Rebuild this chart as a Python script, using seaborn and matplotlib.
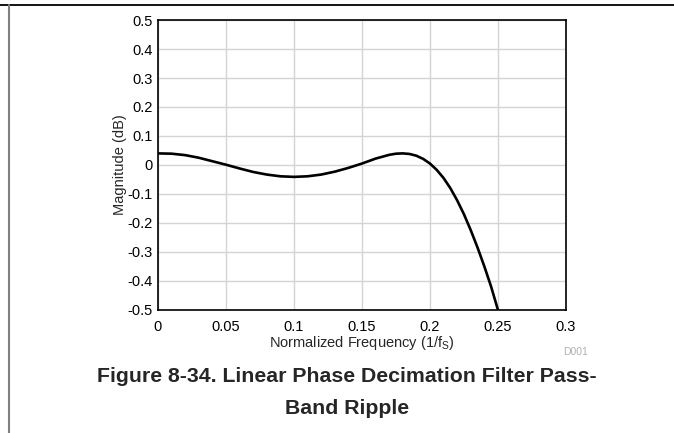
import matplotlib
matplotlib.use("Agg")
import matplotlib.pyplot as plt
import seaborn as sns
import pandas as pd
from matplotlib.lines import Line2D

freq = [0.000, 0.010, 0.020, 0.030, 0.040, 0.050, 0.060, 0.070, 0.080, 0.090,
        0.100, 0.110, 0.120, 0.130, 0.140, 0.150, 0.160, 0.170, 0.175, 0.180,
        0.185, 0.190, 0.195, 0.200, 0.205, 0.210, 0.215, 0.220, 0.225, 0.230,
        0.235, 0.240, 0.245, 0.250]
magnitude = [0.040, 0.039, 0.034, 0.025, 0.013, 0.001, -0.012, -0.024, -0.033, -0.039,
             -0.041, -0.039, -0.033, -0.023, -0.010, 0.005, 0.022, 0.035, 0.039, 0.040,
             0.038, 0.032, 0.021, 0.005, -0.017, -0.045, -0.080, -0.122, -0.170, -0.225,
             -0.285, -0.350, -0.420, -0.500]
x_ticks = [0, 0.05, 0.1, 0.15, 0.2, 0.25, 0.3]
x_tick_labels = ["0", "0.05", "0.1", "0.15", "0.2", "0.25", "0.3"]
y_ticks = [0.5, 0.4, 0.3, 0.2, 0.1, 0, -0.1, -0.2, -0.3, -0.4, -0.5]
y_tick_labels = ["0.5", "0.4", "0.3", "0.2", "0.1", "0", "-0.1", "-0.2", "-0.3", "-0.4", "-0.5"]

sns.set_style("whitegrid")
plt.rcParams["font.family"] = ["Liberation Sans", "DejaVu Sans"]

df = pd.DataFrame({"freq": freq, "mag": magnitude})

fig = plt.figure(figsize=(6.74, 4.33), dpi=100)
ax = fig.add_axes([0.2344, 0.2841, 0.6053, 0.6697])
sns.lineplot(data=df, x="freq", y="mag", ax=ax, color="black", linewidth=1.9, sort=False)

ax.set_xlim(0, 0.3)
ax.set_ylim(-0.5, 0.5)
ax.set_xticks(x_ticks)
ax.set_xticklabels(x_tick_labels)
ax.set_yticks(y_ticks)
ax.set_yticklabels(y_tick_labels)
ax.tick_params(axis="both", labelsize=10.5, colors="black", length=0)
ax.tick_params(axis="x", pad=7)
ax.tick_params(axis="y", pad=4)
ax.grid(True, color="#d4d4d4", linewidth=1.0)
for s in ax.spines.values():
    s.set_color("black")
    s.set_linewidth(1.2)
ax.set_xlabel("Normalized Frequency (1/f$_\\mathregular{S}$)", fontsize=10.5)
ax.set_ylabel("Magnitude (dB)", fontsize=10.5)
ax.xaxis.set_label_coords(0.5, -0.114)
ax.yaxis.set_label_coords(-0.093, 0.5)
ax.xaxis.label.set_va("center")
ax.yaxis.label.set_va("center")

fig.text(575.5 / 674, 1 - 352 / 433, "D001", color="#b0b0b0", fontsize=7.5,
         ha="center", va="center")
fig.text(347 / 674, 1 - 377 / 433, "Figure 8-34. Linear Phase Decimation Filter Pass-",
         fontsize=15.3, fontweight="bold", ha="center", va="center")
fig.text(347 / 674, 1 - 408 / 433, "Band Ripple",
         fontsize=15.3, fontweight="bold", ha="center", va="center")

fig.add_artist(Line2D([0, 1], [1 - 4.5 / 433, 1 - 4.5 / 433], transform=fig.transFigure,
                      color="black", linewidth=1.3))
fig.add_artist(Line2D([8.5 / 674, 8.5 / 674], [0, 1 - 4.5 / 433], transform=fig.transFigure,
                      color="#808080", linewidth=1.5))

fig.savefig("out.png", dpi=100)
